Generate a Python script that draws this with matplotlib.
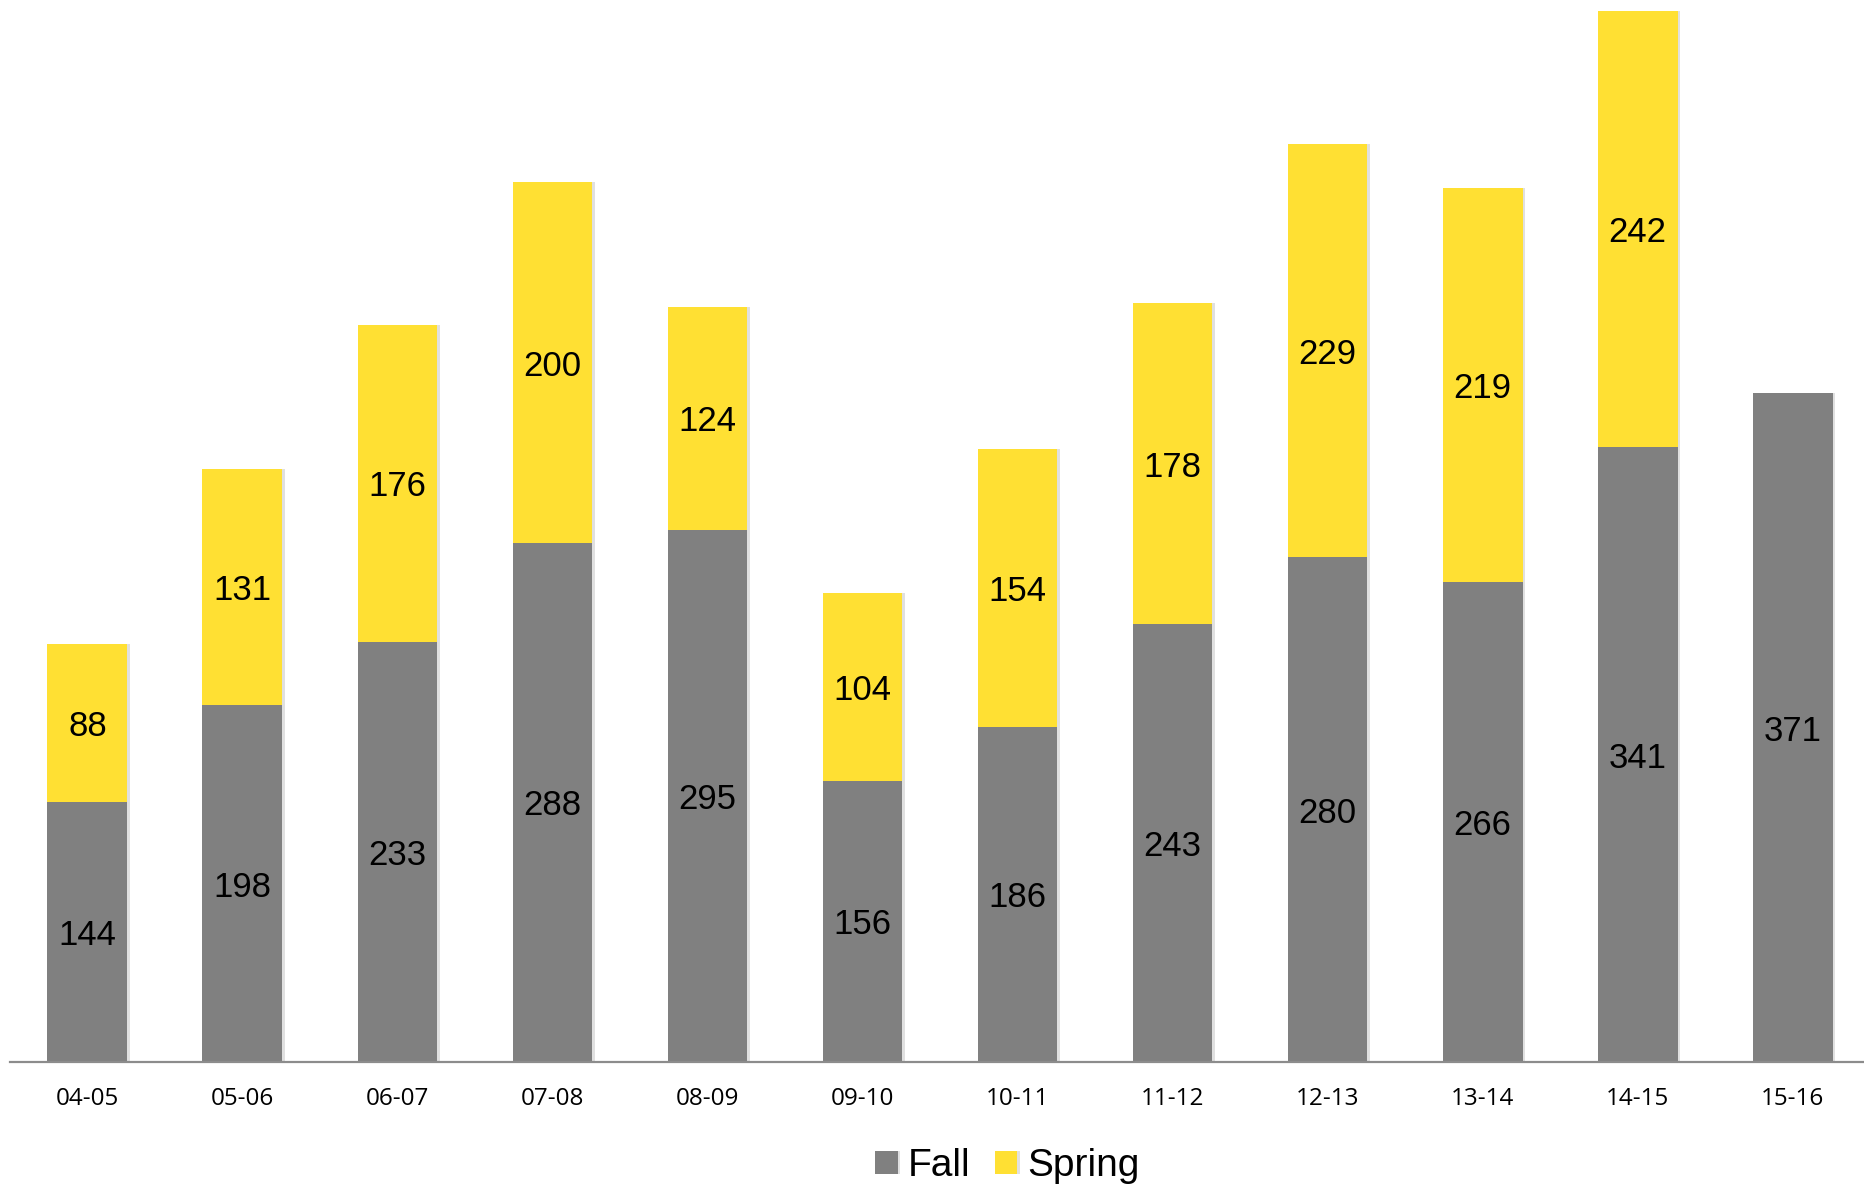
import numpy as np
import matplotlib.pyplot as plt
import matplotlib.patheffects as pe

years = ['04-05', '05-06', '06-07', '07-08', '08-09', '09-10',
         '10-11', '11-12', '12-13', '13-14', '14-15', '15-16']
fall = [144, 198, 233, 288, 295, 156, 186, 243, 280, 266, 341, 371]
spring = [88, 131, 176, 200, 124, 104, 154, 178, 229, 219, 242, 0]

GRAY = '#808080'
YELLOW = '#FFE033'

fig = plt.figure(figsize=(18.64, 11.89), dpi=100)
ax = fig.add_axes([0.0053, 0.1068, 0.998, 0.8932])

x = np.arange(len(years))
width = 0.515
shadow = [pe.SimplePatchShadow(offset=(2, 0), alpha=0.12, shadow_rgbFace='black'), pe.Normal()]

b1 = ax.bar(x, fall, width, color=GRAY, label='Fall', zorder=2)
b2 = ax.bar(x, spring, width, bottom=fall, color=YELLOW, label='Spring', zorder=2)
for bars in (b1, b2):
    for p in bars:
        p.set_path_effects(shadow)


def seg_label(xpos, ypos, value):
    ax.annotate(str(value), (xpos, ypos), xytext=(0, -2.6), textcoords='offset points',
                ha='center', va='center', fontsize=25, family='Liberation Sans',
                color='black', zorder=3)


# value labels centred in each segment
for i in x:
    seg_label(i, fall[i] / 2, fall[i])
    if spring[i]:
        seg_label(i, fall[i] + spring[i] / 2, spring[i])

ax.set_xlim(-0.5, 11.5)
ax.set_ylim(0, 589)
ax.set_xticks(x)
ax.set_xticklabels(years, fontsize=17.5, family='Open Sans')
ax.tick_params(axis='x', length=0, pad=18)
ax.set_yticks([])
for side in ('top', 'right', 'left'):
    ax.spines[side].set_visible(False)
ax.spines['bottom'].set_color('#8c8c8c')
ax.spines['bottom'].set_linewidth(1.6)
ax.spines['bottom'].set_zorder(4)

fig.legend(handles=[b1, b2], labels=['Fall', 'Spring'], loc='center',
           bbox_to_anchor=(0.5405, 0.019), ncol=2, frameon=False,
           prop={'family': 'Liberation Sans', 'size': 28},
           handlelength=0.57, handleheight=0.55, handletextpad=0.25,
           columnspacing=0.65)

fig.savefig('out.png', dpi=100)
